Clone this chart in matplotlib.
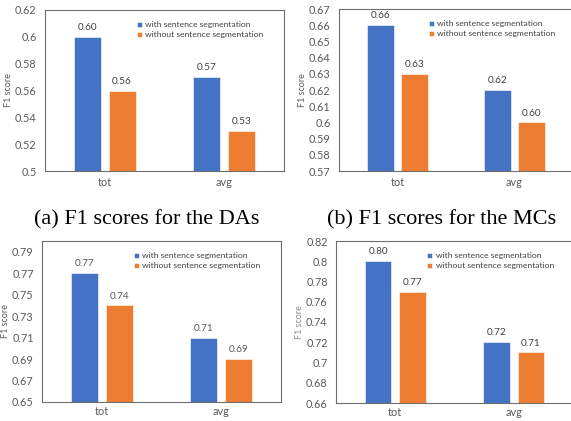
import numpy as np
import matplotlib
matplotlib.use('Agg')
import matplotlib.pyplot as plt

## Data
categories = ['tot', 'avg']
series_names = ['with sentence segmentation', 'without sentence segmentation']

da_with = [0.60, 0.57]
da_without = [0.56, 0.53]
mc_with = [0.66, 0.62]
mc_without = [0.63, 0.60]
da2_with = [0.77, 0.71]
da2_without = [0.74, 0.69]
mc2_with = [0.80, 0.72]
mc2_without = [0.77, 0.71]

captions = ['(a) F1 scores for the DAs', '(b) F1 scores for the MCs']

blue = '#4472C4'
orange = '#ED7D31'
frame_col = '#6e6e6e'
txt_col = '#595959'

plt.rcParams['font.family'] = ['Lato', 'DejaVu Sans']

fig = plt.figure(figsize=(5.71, 4.21), dpi=100)
W, H = 571.0, 421.0

def px_axes(l, t, r, b):
    return fig.add_axes([l / W, 1 - b / H, (r - l) / W, (b - t) / H])

def panel(ax, vals1, vals2, ymin, ymax, ticks, xpad=4.5, ylab_col=txt_col, lab_col='#404040'):
    x = np.arange(len(categories))
    bw = 0.225
    off = 0.145
    b1 = ax.bar(x - off, vals1, bw, color=blue, edgecolor='white', linewidth=0.4, label=series_names[0])
    b2 = ax.bar(x + off, vals2, bw, color=orange, edgecolor='white', linewidth=0.4, label=series_names[1])
    for bars in (b1, b2):
        for r in bars:
            ax.annotate('%.2f' % r.get_height(), (r.get_x() + r.get_width() / 2, r.get_height()),
                        xytext=(0, 3.5), textcoords='offset points', ha='center', va='bottom',
                        fontsize=7.2, color=lab_col)
    ax.set_xlim(-0.5, 1.5)
    ax.set_ylim(ymin, ymax)
    ax.set_yticks(ticks)
    ax.set_yticklabels(['%g' % round(t, 2) for t in ticks])
    ax.set_xticks(x)
    ax.set_xticklabels(categories)
    ax.tick_params(length=0, labelsize=7.8, colors=txt_col, pad=6)
    ax.tick_params(axis='x', pad=xpad)
    for s in ax.spines.values():
        s.set_color(frame_col)
        s.set_linewidth(0.8)
    ax.set_ylabel('F1 score', fontsize=6.5, color=ylab_col, labelpad=1.5)
    leg = ax.legend(loc='upper left', bbox_to_anchor=(0.37, 0.95), frameon=False, fontsize=6.1,
                    handlelength=0.6, handleheight=0.6, handletextpad=0.4, labelspacing=0.35,
                    borderaxespad=0)
    for t in leg.get_texts():
        t.set_color('#404040')

ax1 = px_axes(45, 10, 284, 171)
panel(ax1, da_with, da_without, 0.5, 0.62, np.arange(0.5, 0.6201, 0.02))

ax2 = px_axes(339, 9, 573, 171)
panel(ax2, mc_with, mc_without, 0.57, 0.67, np.arange(0.57, 0.6701, 0.01))

ax3 = px_axes(42, 241, 281, 402)
panel(ax3, da2_with, da2_without, 0.65, 0.80, np.arange(0.65, 0.7901, 0.02), xpad=3,
      lab_col='#595959')

ax4 = px_axes(336, 241, 573, 403)
panel(ax4, mc2_with, mc2_without, 0.66, 0.82, np.arange(0.66, 0.8201, 0.02), xpad=3,
      ylab_col='#8c8c8c')

fig.text(147 / W, 1 - 220 / H, captions[0], ha='center', va='center',
         fontsize=16, family='Liberation Serif', color='black')
fig.text(442 / W, 1 - 220 / H, captions[1], ha='center', va='center',
         fontsize=16, family='Liberation Serif', color='black')

plt.savefig('out.png', dpi=100)
